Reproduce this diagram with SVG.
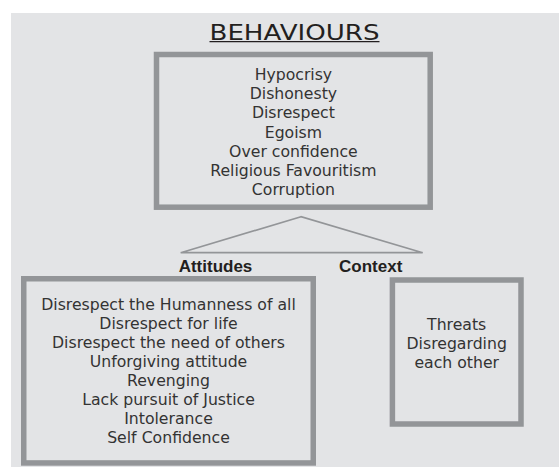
<svg xmlns="http://www.w3.org/2000/svg" width="559" height="467" viewBox="0 0 559 467">
<style>
.bg{fill:#e3e4e6}
.box{fill:#e3e4e6;stroke:#939598;stroke-width:5.5}
.t{font-family:"DejaVu Sans","Liberation Sans",sans-serif;font-size:15.7px;fill:#333333;text-anchor:middle}
.h{font-family:"Liberation Sans",Arial,sans-serif;font-weight:bold;font-size:17px;fill:#231f20;text-anchor:middle}
.title{font-family:"DejaVu Sans","Liberation Sans",sans-serif;font-size:20.6px;fill:#231f20}
.conn{fill:none;stroke:#939598;stroke-width:1.7;stroke-linejoin:miter}
</style>
<rect class="bg" x="11" y="13" width="548" height="454"/>
<g id="title">
<text class="title" x="209.5" y="39.5" textLength="170" lengthAdjust="spacingAndGlyphs">BEHAVIOURS</text>
<line x1="209.5" y1="41.6" x2="379.5" y2="41.6" stroke="#231f20" stroke-width="1.2"/>
</g>
<g id="behaviours">
<rect class="box" x="156.5" y="54.5" width="273.7" height="152.7"/>
<text class="t" x="293.4" y="80.3">Hypocrisy</text>
<text class="t" x="293.4" y="99.4">Dishonesty</text>
<text class="t" x="293.4" y="118.4">Disrespect</text>
<text class="t" x="293.4" y="137.5">Egoism</text>
<text class="t" x="293.4" y="156.6">Over confidence</text>
<text class="t" x="293.4" y="175.7">Religious Favouritism</text>
<text class="t" x="293.4" y="194.7">Corruption</text>
</g>
<g id="connectors">
<polygon class="conn" points="301,216.7 180.7,252.7 422.7,252.7"/>
</g>
<g id="attitudes-label">
<text class="h" x="215.5" y="272.3">Attitudes</text>
</g>
<g id="context-label">
<text class="h" x="370.7" y="272.3">Context</text>
</g>
<g id="attitudes">
<rect class="box" x="23.75" y="278.75" width="289.5" height="184.2"/>
<text class="t" x="168.5" y="309.7">Disrespect the Humanness of all</text>
<text class="t" x="168.5" y="328.8">Disrespect for life</text>
<text class="t" x="168.5" y="347.8">Disrespect the need of others</text>
<text class="t" x="168.5" y="366.9">Unforgiving attitude</text>
<text class="t" x="168.5" y="386">Revenging</text>
<text class="t" x="168.5" y="405.1">Lack pursuit of Justice</text>
<text class="t" x="168.5" y="424.1">Intolerance</text>
<text class="t" x="168.5" y="443.2">Self Confidence</text>
</g>
<g id="context">
<rect class="box" x="392.4" y="280" width="128.6" height="144"/>
<text class="t" x="456.7" y="329.6">Threats</text>
<text class="t" x="456.7" y="348.6">Disregarding</text>
<text class="t" x="456.7" y="367.7">each other</text>
</g>
</svg>
